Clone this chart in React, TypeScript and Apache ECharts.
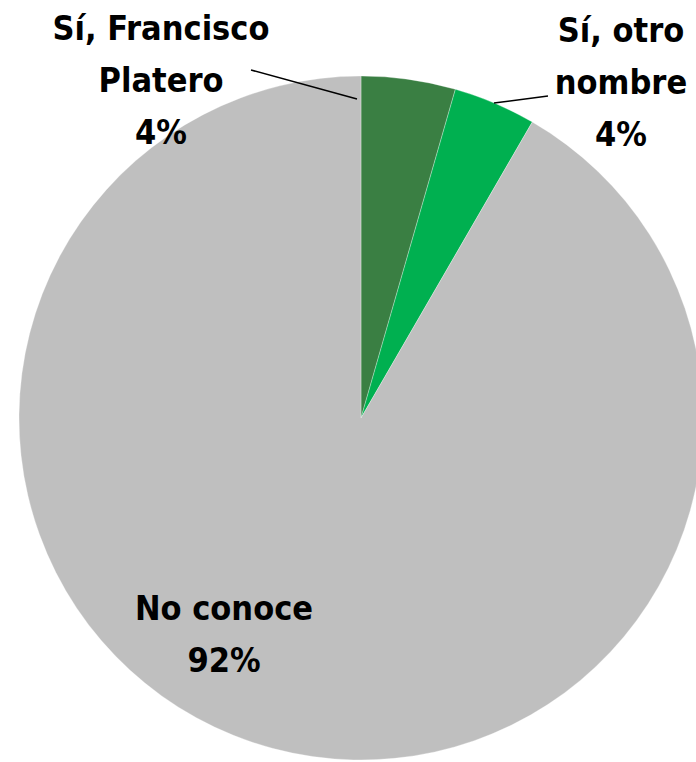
import React, { useEffect, useRef } from "react";
import * as echarts from "echarts";

const categories = ["Sí, Francisco\nPlatero", "Sí, otro\nnombre", "No conoce"];
const values = [4.45, 3.9, 91.65];
const colors = ["#3A7F43", "#00B050", "#BFBFBF"];

const labelCenters: [number, number][] = [
  [161, 80],
  [621, 82],
  [224, 634],
];
const leaderLines: [number, number][][] = [
  [
    [357, 99],
    [251, 70],
  ],
  [
    [494, 103],
    [548, 96],
  ],
];

export default function App() {
  const ref = useRef<HTMLDivElement>(null);
  useEffect(() => {
    document.body.style.margin = "0";
    const chart = echarts.init(ref.current!, null, { renderer: "svg" });
    chart.setOption({
      animation: false,
      backgroundColor: "#ffffff",
      graphic: leaderLines.map((pts) => ({
        type: "polyline",
        z: 100,
        shape: { points: pts },
        style: { stroke: "#000000", lineWidth: 1.5, fill: null },
      })),
      series: [
        {
          type: "pie",
          center: [361, 418],
          radius: 342,
          startAngle: 90,
          clockwise: true,
          avoidLabelOverlap: false,
          data: categories.map((name, i) => ({
            name,
            value: values[i],
            itemStyle: { color: colors[i] },
          })),
          itemStyle: { borderColor: "rgba(255,255,255,0.6)", borderWidth: 0.5 },
          label: {
            show: true,
            position: "outside",
            formatter: (p: any) => `${p.name}\n${Math.round(p.percent)}%`,
            fontFamily: "'DejaVu Sans Condensed', 'Liberation Sans', sans-serif",
            fontWeight: "bold",
            fontSize: 34,
            lineHeight: 52,
            color: "#000000",
            align: "center",
          },
          labelLine: { show: false },
          labelLayout: (params: any) => {
            const c = labelCenters[params.dataIndex];
            return {
              x: c[0],
              y: c[1],
              align: "center",
              verticalAlign: "middle",
            };
          },
        },
      ],
    });
    return () => chart.dispose();
  }, []);
  return <div ref={ref} style={{ width: 696, height: 762 }} />;
}
